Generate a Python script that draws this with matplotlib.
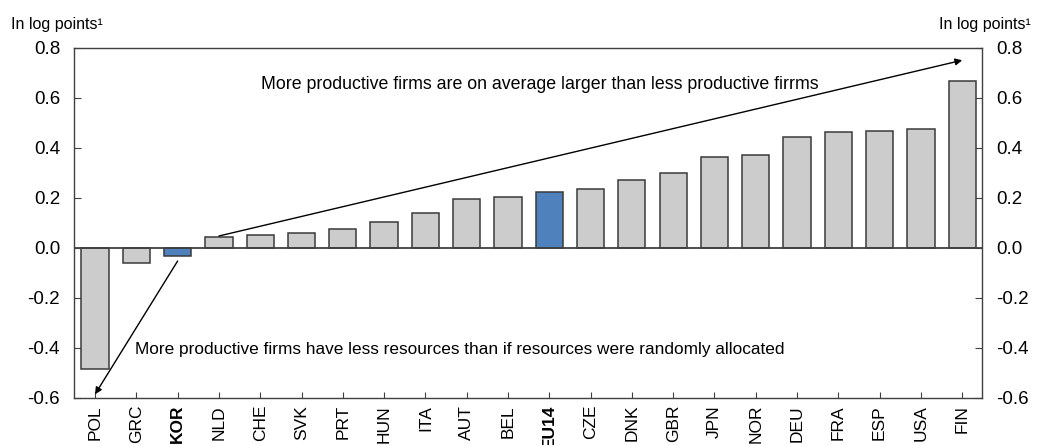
import matplotlib
matplotlib.use("Agg")
import matplotlib.pyplot as plt
import numpy as np

plt.rcParams['font.family'] = ['Liberation Sans', 'DejaVu Sans']

categories = ["POL", "GRC", "KOR", "NLD", "CHE", "SVK", "PRT", "HUN", "ITA", "AUT", "BEL",
              "EU14", "CZE", "DNK", "GBR", "JPN", "NOR", "DEU", "FRA", "ESP", "USA", "FIN"]
values = [-0.484, -0.060, -0.030, 0.045, 0.052, 0.062, 0.077, 0.105, 0.141, 0.198, 0.205,
          0.225, 0.238, 0.273, 0.302, 0.366, 0.372, 0.446, 0.463, 0.467, 0.475, 0.670]
highlight = ["KOR", "EU14"]
yticks = [-0.6, -0.4, -0.2, 0.0, 0.2, 0.4, 0.6, 0.8]
ytick_labels = ["-0.6", "-0.4", "-0.2", "0.0", "0.2", "0.4", "0.6", "0.8"]

grey = "#cccccc"
blue = "#4f81bd"
edge = "#3a3a3a"

fig = plt.figure(figsize=(10.39, 4.45), dpi=100)
ax = fig.add_axes([74/1039, 1-398/445, (982-74)/1039, (398-48)/445])

x = np.arange(len(categories))
colors = [blue if c in highlight else grey for c in categories]
ax.bar(x, values, width=0.66, color=colors, edgecolor=edge, linewidth=1.1, zorder=2)
ax.axhline(0, color="#404040", linewidth=1.3, zorder=3)

ax.set_xlim(-0.51, 21.48)
ax.set_ylim(-0.6, 0.8)
ax.set_yticks(yticks)
ax.set_yticklabels(ytick_labels)
ax.set_xticks(x)
ax.set_xticklabels(categories, rotation=90, fontsize=12.5)
for lbl in ax.get_xticklabels():
    if lbl.get_text() in highlight:
        lbl.set_fontweight("bold")

ax.tick_params(axis="y", which="both", direction="in", left=True, right=True,
               labelleft=True, labelright=True, labelsize=13.5, length=5, color="#404040", pad=10)
ax.tick_params(axis="x", direction="in", length=4, color="#404040", pad=5)
for s in ax.spines.values():
    s.set_color("#404040")
    s.set_linewidth(1.0)

ax.annotate("", xy=(21, 0.751), xytext=(3, 0.048),
            arrowprops=dict(arrowstyle="-|>", color="black", lw=1.0,
                            mutation_scale=10, shrinkA=0, shrinkB=0), zorder=4)
ax.annotate("", xy=(0, -0.585), xytext=(2, -0.052),
            arrowprops=dict(arrowstyle="-|>", color="black", lw=1.0,
                            mutation_scale=10, shrinkA=0, shrinkB=0), zorder=4)

ax.text(10.77, 0.654, "More productive firms are on average larger than less productive firrms",
        ha="center", va="center", fontsize=12.8, zorder=5)
ax.text(0.97, -0.405, "More productive firms have less resources than if resources were randomly allocated",
        ha="left", va="center", fontsize=12.4, zorder=5)

fig.text(11/1039, 1-24/445, "In log points\u00b9", ha="left", va="center", fontsize=11.5)
fig.text(1031/1039, 1-24/445, "In log points\u00b9", ha="right", va="center", fontsize=11.5)

fig.savefig("out.png", dpi=100)
